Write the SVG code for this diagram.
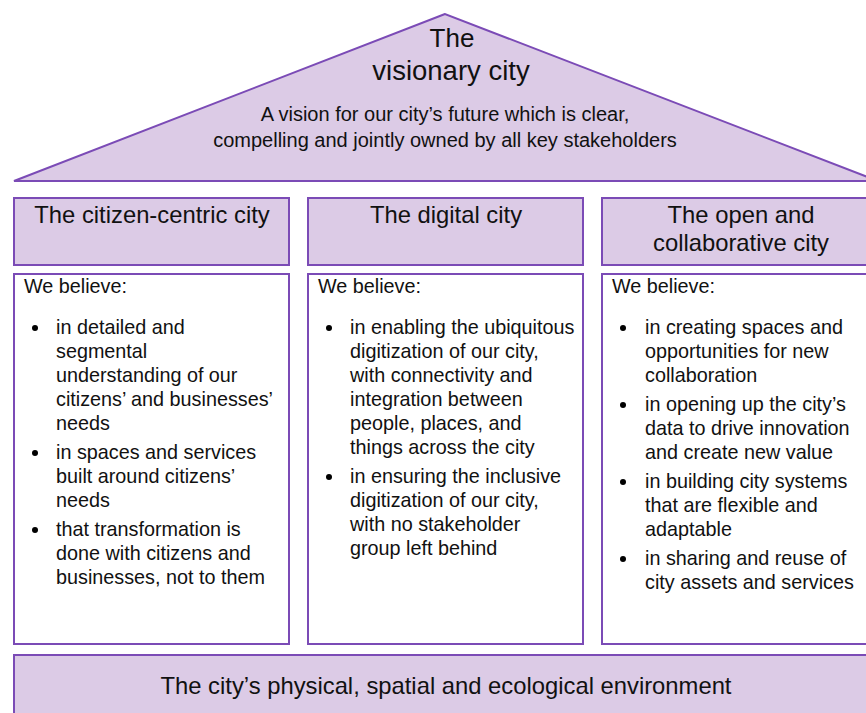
<svg xmlns="http://www.w3.org/2000/svg" width="866" height="713" viewBox="0 0 866 713">
<style>
.p{fill:#dccbe6;stroke:#7b4bb6;stroke-width:2}
.w{fill:#ffffff;stroke:#7b4bb6;stroke-width:2}
text{font-family:"Liberation Sans",Arial,sans-serif;fill:#111}
.h{font-size:23.8px;text-anchor:middle}
.b{font-size:19.8px}
.c{text-anchor:middle}
</style>
<rect width="866" height="713" fill="#ffffff"/>
<g id="roof">
<polygon class="p" points="445,14 14,181 878,181"/>
<text class="c" x="452" y="47" font-size="26">The</text>
<text class="c" x="451" y="80" font-size="27.5">visionary city</text>
<text class="c" x="445" y="121" font-size="20">A vision for our city’s future which is clear,</text>
<text class="c" x="445" y="147" font-size="20">compelling and jointly owned by all key stakeholders</text>
</g>
<g id="citizen-centric">
<rect class="p" x="14" y="198" width="275" height="67"/>
<text class="h" x="152" y="223">The citizen-centric city</text>
<rect class="w" x="14" y="274" width="275" height="370"/>
<text class="b" x="24" y="293">We believe:</text>
<g class="b">
<circle cx="35" cy="328" r="3"/>
<text x="56" y="334">in detailed and</text>
<text x="56" y="358">segmental</text>
<text x="56" y="382">understanding of our</text>
<text x="56" y="406">citizens’ and businesses’</text>
<text x="56" y="430">needs</text>
<circle cx="35" cy="453" r="3"/>
<text x="56" y="459">in spaces and services</text>
<text x="56" y="483">built around citizens’</text>
<text x="56" y="507">needs</text>
<circle cx="35" cy="530" r="3"/>
<text x="56" y="536">that transformation is</text>
<text x="56" y="560">done with citizens and</text>
<text x="56" y="584">businesses, not to them</text>
</g>
</g>
<g id="digital">
<rect class="p" x="308" y="198" width="275" height="67"/>
<text class="h" x="446" y="223">The digital city</text>
<rect class="w" x="308" y="274" width="275" height="370"/>
<text class="b" x="318" y="293">We believe:</text>
<g class="b">
<circle cx="329" cy="328" r="3"/>
<text x="350" y="334">in enabling the ubiquitous</text>
<text x="350" y="358">digitization of our city,</text>
<text x="350" y="382">with connectivity and</text>
<text x="350" y="406">integration between</text>
<text x="350" y="430">people, places, and</text>
<text x="350" y="454">things across the city</text>
<circle cx="329" cy="477" r="3"/>
<text x="350" y="483">in ensuring the inclusive</text>
<text x="350" y="507">digitization of our city,</text>
<text x="350" y="531">with no stakeholder</text>
<text x="350" y="555">group left behind</text>
</g>
</g>
<g id="open-collaborative">
<rect class="p" x="602" y="198" width="280" height="67"/>
<text class="h" x="741" y="223">The open and</text>
<text class="h" x="741" y="251">collaborative city</text>
<rect class="w" x="602" y="274" width="280" height="370"/>
<text class="b" x="612" y="293">We believe:</text>
<g class="b">
<circle cx="623" cy="328" r="3"/>
<text x="645" y="334">in creating spaces and</text>
<text x="645" y="358">opportunities for new</text>
<text x="645" y="382">collaboration</text>
<circle cx="623" cy="405" r="3"/>
<text x="645" y="411">in opening up the city’s</text>
<text x="645" y="435">data to drive innovation</text>
<text x="645" y="459">and create new value</text>
<circle cx="623" cy="482" r="3"/>
<text x="645" y="488">in building city systems</text>
<text x="645" y="512">that are flexible and</text>
<text x="645" y="536">adaptable</text>
<circle cx="623" cy="559" r="3"/>
<text x="645" y="565">in sharing and reuse of</text>
<text x="645" y="589">city assets and services</text>
</g>
</g>
<g id="foundation">
<rect class="p" x="14" y="655" width="870" height="70"/>
<text class="c" x="446" y="694" font-size="23.8">The city’s physical, spatial and ecological environment</text>
</g>
<g id="connectors"></g>
</svg>
